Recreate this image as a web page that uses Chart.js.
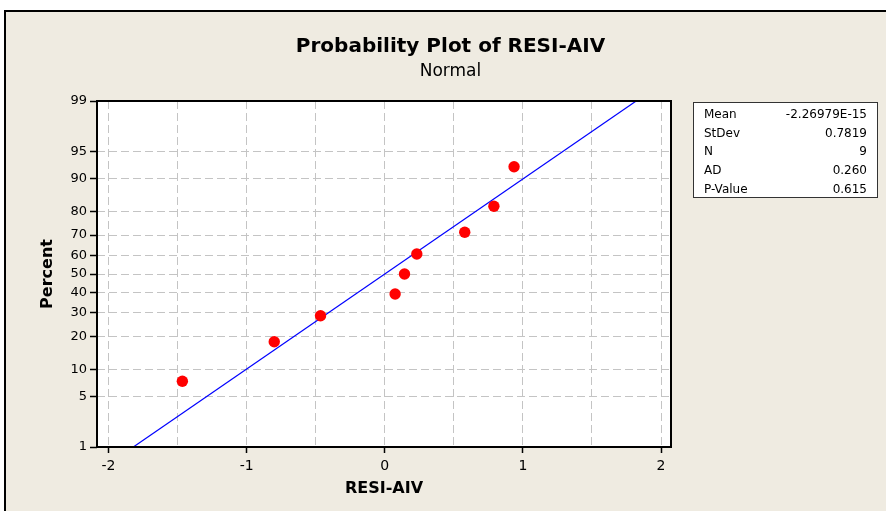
<!DOCTYPE html>
<html>
<head>
<meta charset="utf-8">
<script src="https://cdn.jsdelivr.net/npm/chart.js"></script>
<style>
  html, body { margin: 0; padding: 0; background: #fff; }
  #wrap { width: 886px; height: 511px; }
</style>
</head>
<body>
<div id="wrap"><canvas id="myChart" width="886" height="511"></canvas></div>
<script>
// residuals and their median-rank percents
var residuals = [-1.465, -0.80, -0.465, 0.075, 0.143, 0.232, 0.579, 0.790, 0.936];
var percents = [7.45, 18.09, 28.72, 39.36, 50, 60.64, 71.28, 81.91, 92.55];

// fitted normal line (ends)
var fitX = [-1.82, 1.82];
var fitPct = [1, 99];

var yTicks = [1, 5, 10, 20, 30, 40, 50, 60, 70, 80, 90, 95, 99];
var xTicks = [-2, -1.5, -1, -0.5, 0, 0.5, 1, 1.5, 2];

var statLabels = ['Mean', 'StDev', 'N', 'AD', 'P-Value'];
var statValues = ['-2.26979E-15', '0.7819', '9', '0.260', '0.615'];

var FONT = "'DejaVu Sans', Verdana, sans-serif";

// inverse normal cdf (Acklam)
function probit(p) {
  var a = [-3.969683028665376e+01, 2.209460984245205e+02, -2.759285104469687e+02, 1.383577518672690e+02, -3.066479806614716e+01, 2.506628277459239e+00];
  var b = [-5.447609879822406e+01, 1.615858368580409e+02, -1.556989798598866e+02, 6.680131188771972e+01, -1.328068155288572e+01];
  var c = [-7.784894002430293e-03, -3.223964580411365e-01, -2.400758277161838e+00, -2.549732539343734e+00, 4.374664141464968e+00, 2.938163982698783e+00];
  var d = [7.784695709041462e-03, 3.224671290700398e-01, 2.445134137142996e+00, 3.754408661907416e+00];
  var q, r;
  if (p < 0.02425) {
    q = Math.sqrt(-2 * Math.log(p));
    return (((((c[0]*q + c[1])*q + c[2])*q + c[3])*q + c[4])*q + c[5]) / ((((d[0]*q + d[1])*q + d[2])*q + d[3])*q + 1);
  }
  if (p <= 1 - 0.02425) {
    q = p - 0.5; r = q * q;
    return (((((a[0]*r + a[1])*r + a[2])*r + a[3])*r + a[4])*r + a[5])*q / (((((b[0]*r + b[1])*r + b[2])*r + b[3])*r + b[4])*r + 1);
  }
  q = Math.sqrt(-2 * Math.log(1 - p));
  return -(((((c[0]*q + c[1])*q + c[2])*q + c[3])*q + c[4])*q + c[5]) / ((((d[0]*q + d[1])*q + d[2])*q + d[3])*q + 1);
}

function normCdf(z) {
  var t = 1 / (1 + 0.2316419 * Math.abs(z));
  var y = t * (0.319381530 + t * (-0.356563782 + t * (1.781477937 + t * (-1.821255978 + t * 1.330274429))));
  var p = 1 - Math.exp(-z * z / 2) / Math.sqrt(2 * Math.PI) * y;
  return z >= 0 ? p : 1 - p;
}

// normal probability scale, values in percent
class ProbitScale extends Chart.Scale {
  determineDataLimits() {
    this.min = this.options.min;
    this.max = this.options.max;
  }
  buildTicks() {
    return yTicks.map(function (v) { return { value: v }; });
  }
  configure() {
    super.configure();
    this._zMin = probit(this.min / 100);
    this._zMax = probit(this.max / 100);
  }
  getLabelForValue(v) { return '' + v; }
  getPixelForValue(v) {
    var z = probit(v / 100);
    return this.getPixelForDecimal((z - this._zMin) / (this._zMax - this._zMin));
  }
  getValueForPixel(px) {
    var dec = this.getDecimalForPixel(px);
    return 100 * normCdf(this._zMin + dec * (this._zMax - this._zMin));
  }
}
ProbitScale.id = 'probit';
ProbitScale.defaults = {};
Chart.register(ProbitScale);

var framePlugin = {
  id: 'frame',
  beforeDraw: function (chart) {
    var ctx = chart.ctx, a = chart.chartArea;
    ctx.save();
    ctx.fillStyle = '#ffffff';
    ctx.fillRect(0, 0, chart.width, chart.height);
    ctx.fillStyle = '#efebe1';
    ctx.fillRect(5, 11, chart.width - 5, chart.height - 11);
    ctx.fillStyle = '#000000';
    ctx.fillRect(4, 10, 2, chart.height - 10);
    ctx.fillRect(4, 10, chart.width - 4, 2);
    ctx.fillStyle = '#ffffff';
    ctx.fillRect(a.left, a.top, a.right - a.left, a.bottom - a.top);
    ctx.restore();
  },
  afterDraw: function (chart) {
    var ctx = chart.ctx, a = chart.chartArea;
    ctx.save();
    ctx.strokeStyle = '#000000';
    ctx.lineWidth = 2;
    ctx.strokeRect(a.left, a.top, a.right - a.left, a.bottom - a.top);

    // stats table
    var bx = a.right + 22, by = a.top + 1, bw = 184, bh = 95;
    ctx.fillStyle = '#ffffff';
    ctx.fillRect(bx, by, bw, bh);
    ctx.strokeStyle = '#333333';
    ctx.lineWidth = 1;
    ctx.strokeRect(bx + 0.5, by + 0.5, bw, bh);
    ctx.fillStyle = '#000000';
    ctx.font = '12px ' + FONT;
    ctx.textBaseline = 'middle';
    for (var i = 0; i < statLabels.length; i++) {
      var ry = by + 13 + i * 18.6;
      ctx.textAlign = 'left';
      ctx.fillText(statLabels[i], bx + 11, ry);
      ctx.textAlign = 'right';
      ctx.fillText(statValues[i], bx + 174, ry);
    }
    ctx.restore();
  }
};

var ctx = document.getElementById('myChart').getContext('2d');
var myChart = new Chart(ctx, {
  type: 'scatter',
  data: {
    datasets: [
      {
        label: 'RESI-AIV',
        data: residuals.map(function (x, i) { return { x: x, y: percents[i] }; }),
        backgroundColor: '#ff0000',
        borderWidth: 0,
        pointRadius: 5.7,
        pointHoverRadius: 5.7
      },
      {
        label: 'Fit',
        data: fitX.map(function (x, i) { return { x: x, y: fitPct[i] }; }),
        showLine: true,
        borderColor: '#0000ff',
        borderWidth: 1.2,
        pointRadius: 0,
        fill: false
      }
    ]
  },
  options: {
    responsive: false,
    animation: false,
    layout: { padding: { left: 30, right: 15, top: 12, bottom: 0 } },
    plugins: {
      legend: { display: false },
      tooltip: { enabled: false },
      title: {
        display: true,
        text: 'Probability Plot of RESI-AIV',
        color: '#000',
        font: { family: FONT, size: 20, weight: 'bold' },
        padding: { top: 23, bottom: 2 }
      },
      subtitle: {
        display: true,
        text: 'Normal',
        color: '#000',
        font: { family: FONT, size: 17 },
        padding: { top: 0, bottom: 19.6 }
      }
    },
    scales: {
      x: {
        type: 'linear',
        position: 'bottom',
        min: -2.083,
        max: 2.072,
        afterBuildTicks: function (scale) {
          scale.ticks = xTicks.map(function (v) { return { value: v }; });
        },
        afterFit: function (scale) { scale.height = 64; },
        ticks: {
          autoSkip: false,
          maxRotation: 0,
          color: '#000',
          padding: 5,
          font: { family: FONT, size: 14 },
          callback: function (v) { return v % 1 === 0 ? '' + v : ''; }
        },
        grid: {
          color: '#c4c4c4',
          lineWidth: 1,
          borderDash: [8, 4],
          tickLength: 6,
          tickColor: function (c) { return c.tick && c.tick.value % 1 === 0 ? '#000' : 'rgba(0,0,0,0)'; },
          tickWidth: 1.5
        },
        border: { display: false, dash: [8, 4] },
        title: {
          display: true,
          text: 'RESI-AIV',
          color: '#000',
          font: { family: FONT, size: 16, weight: 'bold' },
          padding: { top: 0, bottom: 13 }
        }
      },
      y: {
        type: 'probit',
        position: 'left',
        min: 1,
        max: 99,
        afterFit: function (scale) { scale.width = 67; },
        ticks: {
          autoSkip: false,
          color: '#000',
          padding: 3,
          font: { family: FONT, size: 13 }
        },
        grid: {
          color: '#c4c4c4',
          lineWidth: 1,
          borderDash: [8, 4],
          tickLength: 7,
          tickColor: '#000',
          tickWidth: 1.5
        },
        border: { display: false, dash: [8, 4] },
        title: {
          display: true,
          text: 'Percent',
          color: '#000',
          font: { family: FONT, size: 16, weight: 'bold' },
          padding: { top: 8, bottom: 0 }
        }
      },
      side: {
        type: 'linear',
        position: 'right',
        display: true,
        afterFit: function (scale) { scale.width = 200; },
        ticks: { display: false },
        grid: { display: false, drawTicks: false },
        border: { display: false }
      }
    }
  },
  plugins: [framePlugin]
});
</script>
</body>
</html>
